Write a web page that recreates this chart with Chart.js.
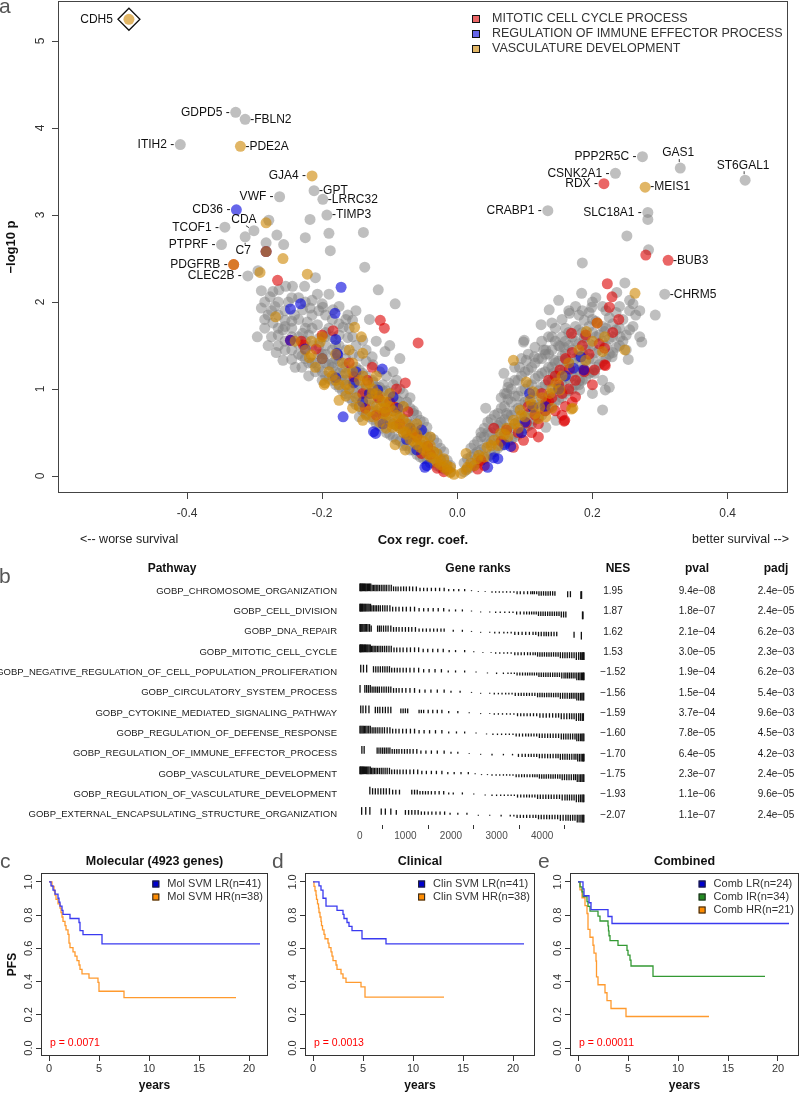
<!DOCTYPE html>
<html>
<head>
<meta charset="utf-8">
<script src="https://cdn.jsdelivr.net/npm/chart.js@4.4.1/dist/chart.umd.min.js"></script>
<style>
  body { margin: 0; background: #fff; width: 800px; height: 1093px; overflow: hidden; position: relative;
         font-family: "Liberation Sans", Arial, sans-serif; }
  canvas { position: absolute; }
  .tag { position: absolute; font-size: 21px; line-height: 21px; color: #555; }
</style>
</head>
<body>
<canvas id="volcano" width="800" height="580" style="left:0;top:-20px;width:800px;height:580px"></canvas>
<canvas id="gsea" width="800" height="292" style="left:0;top:555px;width:800px;height:292px"></canvas>
<canvas id="kmC" width="270" height="248" style="left:0;top:845px;width:270px;height:248px"></canvas>
<canvas id="kmD" width="268" height="248" style="left:270px;top:845px;width:268px;height:248px"></canvas>
<canvas id="kmE" width="262" height="248" style="left:538px;top:845px;width:262px;height:248px"></canvas>
<div class="tag" style="left:-1px;top:-5px">a</div>
<div class="tag" style="left:-1px;top:565px">b</div>
<div class="tag" style="left:0;top:850px">c</div>
<div class="tag" style="left:272px;top:850px">d</div>
<div class="tag" style="left:538px;top:850px">e</div>
<script>
// ---------- panel a : volcano ----------
const coefTicks = [-0.4, -0.2, 0, 0.2, 0.4];
const logpTicks = [0, 1, 2, 3, 4, 5];
const setNames = ['MITOTIC CELL CYCLE PROCESS', 'REGULATION OF IMMUNE EFFECTOR PROCESS', 'VASCULATURE DEVELOPMENT'];

// labelled genes
const geneNames = ['CDH5','GDPD5','FBLN2','ITIH2','PDE2A','GJA4','GPT','LRRC32','TIMP3','VWF','CD36','TCOF1','CDA','C7',
  'PTPRF','PDGFRB','CLEC2B','PPP2R5C','GAS1','ST6GAL1','CSNK2A1','RDX','MEIS1','CRABP1','SLC18A1','BUB3','CHRM5'];
const geneCoef = [-0.486,-0.328,-0.314,-0.410,-0.321,-0.215,-0.212,-0.199,-0.193,-0.263,-0.327,-0.344,-0.301,-0.314,
  -0.349,-0.331,-0.310,0.274,0.330,0.426,0.234,0.217,0.278,0.134,0.282,0.312,0.307];
const geneLogP = [5.25,4.18,4.10,3.81,3.79,3.45,3.28,3.18,3.00,3.21,3.06,2.86,2.82,2.75,
  2.66,2.43,2.30,3.67,3.54,3.40,3.48,3.36,3.32,3.05,3.03,2.48,2.09];
// m = mitotic, i = immune, v = vasculature, n = none
const geneSet = ['v','n','n','n','v','v','n','n','n','n','i','n','n','n','n','mv','n','n','n','n','n','m','v','n','n','m','n'];
const geneSide = ['l','l','r','l','r','l','r','r','r','l','l','l','tl','b','l','l','l','l','t','t','l','l','r','l','l','r','r'];
const highlightGene = 'CDH5';

const grayPoints = [
  [-0.279,2.94],[-0.267,2.77],[-0.283,2.68],[-0.257,2.66],[-0.218,2.95],[-0.225,2.74],[-0.19,2.79],[-0.139,2.80],
  [-0.188,2.59],[-0.137,2.40],[-0.21,2.28],[-0.295,2.36],[-0.244,2.18],[-0.254,2.18],[-0.226,2.18],[-0.117,2.14],
  [-0.29,2.13],[-0.273,2.12],[-0.264,2.14],[-0.207,2.09],[-0.19,2.09],[-0.277,2.06],[-0.092,1.98],[-0.29,1.93],
  [-0.229,1.91],[-0.241,1.85],[-0.218,1.93],[-0.199,1.94],[-0.184,1.91],[-0.162,1.85],[-0.155,1.79],[-0.169,1.71],
  [-0.207,1.74],[-0.222,1.77],[-0.255,1.79],[-0.273,1.76],[-0.285,1.70],[-0.296,1.60],[-0.258,1.68],[-0.229,1.64],
  [-0.196,1.60],[-0.162,1.59],[-0.140,1.56],[-0.258,1.33],[-0.245,1.34],[-0.107,1.43],[-0.126,1.37],
  [-0.27,1.95],[-0.25,2.0],[-0.235,2.05],[-0.215,2.02],[-0.2,1.98],[-0.175,1.95],[-0.15,1.9],[-0.13,1.8],
  [-0.28,1.85],[-0.265,1.62],[-0.245,1.7],[-0.235,1.52],[-0.22,1.62],[-0.205,1.5],[-0.19,1.7],[-0.175,1.62],
  [-0.16,1.7],[-0.15,1.5],[-0.135,1.45],[-0.28,1.5],[-0.268,1.42],[-0.255,1.45],[-0.24,1.25],[-0.23,1.38],
  [-0.21,1.3],[-0.195,1.4],[-0.18,1.5],[-0.165,1.35],[-0.15,1.25],[-0.12,1.55],[-0.1,1.5],[-0.085,1.35],
  [-0.095,1.2],[-0.22,1.15],[-0.2,1.2],[-0.185,1.25],[-0.17,1.15],[-0.155,1.08],[-0.14,1.18],[-0.125,1.1],
  [-0.11,1.05],[-0.09,1.1],[-0.08,0.95],[-0.07,0.9],[-0.065,0.75],[-0.145,0.68],
  [-0.01,0.05],[-0.01,0.12],[-0.02,0.08],[-0.02,0.18],[-0.02,0.28],[-0.03,0.12],[-0.03,0.25],[-0.03,0.38],
  [-0.04,0.15],[-0.04,0.3],[-0.04,0.45],[-0.05,0.2],[-0.05,0.35],[-0.05,0.5],[-0.05,0.62],[-0.06,0.25],
  [-0.06,0.4],[-0.06,0.55],[-0.06,0.7],[-0.07,0.3],[-0.07,0.45],[-0.07,0.6],[-0.07,0.78],[-0.08,0.35],
  [-0.08,0.5],[-0.08,0.65],[-0.08,0.8],[-0.09,0.42],[-0.09,0.58],[-0.09,0.72],[-0.09,0.88],[-0.1,0.48],
  [-0.1,0.62],[-0.1,0.78],[-0.1,0.95],[-0.11,0.55],[-0.11,0.7],[-0.11,0.85],[-0.11,0.98],[-0.12,0.6],
  [-0.12,0.75],[-0.12,0.9],[-0.12,1.02],[-0.13,0.68],[-0.13,0.82],[-0.13,0.95],[-0.14,0.75],[-0.14,0.88],
  [-0.14,1.0],[-0.15,0.82],[-0.15,0.95],[-0.15,1.1],[-0.16,0.9],[-0.16,1.05],[-0.16,1.2],[-0.17,0.98],
  [-0.17,1.1],[-0.17,1.25],[-0.18,1.05],[-0.18,1.2],[-0.18,1.35],[-0.19,1.12],[-0.19,1.28],[-0.2,1.1],
  [-0.2,1.4],[-0.21,1.2],[-0.22,1.3],[-0.23,1.25],
  [-0.015,0.08],[-0.015,0.18],[-0.025,0.1],[-0.025,0.2],[-0.025,0.32],[-0.035,0.15],[-0.035,0.28],[-0.035,0.42],
  [-0.045,0.2],[-0.045,0.32],[-0.045,0.45],[-0.045,0.56],[-0.055,0.22],[-0.055,0.36],[-0.055,0.5],[-0.055,0.64],
  [-0.065,0.3],[-0.065,0.45],[-0.065,0.6],[-0.065,0.72],[-0.075,0.35],[-0.075,0.5],[-0.075,0.65],[-0.075,0.85],
  [-0.085,0.4],[-0.085,0.55],[-0.085,0.7],[-0.085,0.85],[-0.085,1.0],[-0.095,0.45],[-0.095,0.6],[-0.095,0.75],
  [-0.095,0.9],[-0.095,1.05],[-0.105,0.5],[-0.105,0.66],[-0.105,0.82],[-0.105,0.98],[-0.105,1.15],[-0.115,0.58],
  [-0.115,0.72],[-0.115,0.88],[-0.115,1.02],[-0.115,1.2],[-0.125,0.65],[-0.125,0.8],[-0.125,0.95],[-0.125,1.08],
  [-0.125,1.28],[-0.135,0.72],[-0.135,0.86],[-0.135,1.0],[-0.135,1.15],[-0.135,1.32],[-0.145,0.8],[-0.145,0.92],
  [-0.145,1.06],[-0.145,1.22],[-0.145,1.38],[-0.155,0.86],[-0.155,1.0],[-0.155,1.15],[-0.155,1.4],[-0.155,1.6],
  [-0.165,0.95],[-0.165,1.1],[-0.165,1.25],[-0.165,1.45],[-0.165,1.8],[-0.175,1.02],[-0.175,1.18],[-0.175,1.32],
  [-0.175,1.5],[-0.175,1.75],[-0.185,1.1],[-0.185,1.3],[-0.185,1.45],[-0.185,1.6],[-0.185,1.8],[-0.195,1.15],
  [-0.195,1.3],[-0.195,1.5],[-0.195,1.65],[-0.195,1.85],[-0.205,1.25],[-0.205,1.4],[-0.205,1.58],[-0.205,1.9],
  [-0.215,1.3],[-0.215,1.5],[-0.215,1.7],[-0.215,1.85],[-0.225,1.35],[-0.225,1.55],[-0.225,1.7],[-0.225,2.0],
  [-0.235,1.4],[-0.235,1.6],[-0.235,1.8],[-0.245,1.45],[-0.245,1.6],[-0.245,1.78],[-0.245,2.05],[-0.255,1.55],
  [-0.255,1.72],[-0.255,1.9],[-0.265,1.5],[-0.265,1.7],[-0.265,1.85],[-0.265,2.0],[-0.275,1.6],[-0.275,1.9],
  [-0.285,1.8],[-0.285,2.0],
  [0.01,0.05],[0.01,0.15],[0.02,0.1],[0.02,0.22],[0.02,0.32],[0.03,0.15],[0.03,0.28],[0.03,0.4],
  [0.04,0.2],[0.04,0.32],[0.04,0.45],[0.04,0.55],[0.05,0.25],[0.05,0.38],[0.05,0.5],[0.05,0.65],
  [0.06,0.32],[0.06,0.45],[0.06,0.58],[0.06,0.72],[0.07,0.38],[0.07,0.5],[0.07,0.65],[0.07,0.8],
  [0.07,0.95],[0.08,0.42],[0.08,0.55],[0.08,0.7],[0.08,0.85],[0.08,1.0],[0.09,0.48],[0.09,0.62],
  [0.09,0.78],[0.09,0.92],[0.09,1.1],[0.1,0.55],[0.1,0.7],[0.1,0.85],[0.1,1.0],[0.1,1.2],
  [0.11,0.6],[0.11,0.75],[0.11,0.9],[0.11,1.05],[0.11,1.25],[0.12,0.68],[0.12,0.82],[0.12,0.98],
  [0.12,1.15],[0.12,1.35],[0.13,0.75],[0.13,0.9],[0.13,1.05],[0.13,1.2],[0.13,1.4],[0.14,0.8],
  [0.14,0.95],[0.14,1.1],[0.14,1.25],[0.14,1.45],[0.14,1.6],[0.15,0.88],[0.15,1.02],[0.15,1.18],
  [0.15,1.32],[0.15,1.5],[0.16,0.95],[0.16,1.1],[0.16,1.25],[0.16,1.4],[0.16,1.55],[0.16,1.7],
  [0.17,1.0],[0.17,1.15],[0.17,1.3],[0.17,1.45],[0.17,1.6],[0.18,1.05],[0.18,1.22],[0.18,1.38],
  [0.18,1.52],[0.18,1.68],[0.18,1.85],[0.19,1.12],[0.19,1.3],[0.19,1.45],[0.19,1.6],[0.2,1.2],
  [0.2,1.35],[0.2,1.5],[0.2,1.65],[0.2,1.8],[0.2,2.0],[0.21,1.28],[0.21,1.45],[0.21,1.62],
  [0.22,1.35],[0.22,1.5],[0.22,1.7],[0.22,1.9],[0.23,1.42],[0.23,1.6],[0.23,1.75],[0.24,1.5],
  [0.24,1.7],[0.24,1.95],[0.25,1.62],[0.26,1.72],[0.26,1.98],[0.27,1.6],[0.27,1.9],
  [0.015,0.08],[0.015,0.2],[0.025,0.12],[0.025,0.25],[0.025,0.36],[0.035,0.18],[0.035,0.3],[0.035,0.5],
  [0.045,0.22],[0.045,0.38],[0.045,0.5],[0.045,0.62],[0.055,0.28],[0.055,0.42],[0.055,0.55],[0.055,0.7],
  [0.065,0.35],[0.065,0.48],[0.065,0.62],[0.065,0.78],[0.065,0.9],[0.075,0.4],[0.075,0.55],[0.075,0.7],
  [0.075,0.88],[0.075,1.02],[0.085,0.45],[0.085,0.6],[0.085,0.75],[0.085,0.92],[0.085,1.1],[0.085,1.25],
  [0.095,0.5],[0.095,0.66],[0.095,0.82],[0.095,0.98],[0.095,1.15],[0.095,1.35],[0.105,0.58],[0.105,0.72],
  [0.105,0.88],[0.105,1.05],[0.105,1.22],[0.105,1.4],[0.115,0.65],[0.115,0.8],[0.115,0.95],[0.115,1.12],
  [0.115,1.3],[0.115,1.48],[0.125,0.7],[0.125,0.86],[0.125,1.02],[0.125,1.18],[0.125,1.35],[0.125,1.55],
  [0.135,0.78],[0.135,0.92],[0.135,1.08],[0.135,1.25],[0.135,1.4],[0.135,1.6],[0.145,0.85],[0.145,1.0],
  [0.145,1.15],[0.145,1.3],[0.145,1.55],[0.145,1.7],[0.155,0.9],[0.155,1.05],[0.155,1.22],[0.155,1.38],
  [0.155,1.6],[0.155,1.8],[0.165,0.98],[0.165,1.12],[0.165,1.3],[0.165,1.5],[0.165,1.65],[0.165,1.9],
  [0.175,1.05],[0.175,1.2],[0.175,1.35],[0.175,1.55],[0.175,1.72],[0.175,1.95],[0.185,1.1],[0.185,1.28],
  [0.185,1.42],[0.185,1.65],[0.185,1.9],[0.195,1.18],[0.195,1.35],[0.195,1.52],[0.195,1.72],[0.195,1.88],
  [0.205,1.25],[0.205,1.42],[0.205,1.6],[0.205,1.78],[0.205,2.05],[0.215,1.32],[0.215,1.55],[0.215,1.72],
  [0.215,1.95],[0.225,1.4],[0.225,1.58],[0.225,1.82],[0.235,1.48],[0.235,1.68],[0.235,1.88],[0.245,1.55],
  [0.245,1.8],[0.255,1.68],[0.255,1.9],
  [0.042,0.78],[0.073,0.72],[0.064,0.61],[0.035,0.45],[0.073,0.95],[0.076,1.07],[0.102,1.33],[0.098,1.54],
  [0.131,1.45],[0.152,1.49],[0.142,1.18],[0.161,1.33],[0.181,1.10],[0.2,0.95],[0.215,0.76],[0.219,0.99],
  [0.229,1.37],[0.146,0.64],[0.131,0.56],[0.248,2.22],[0.236,2.11],[0.255,2.02],[0.264,1.85],[0.293,1.85],
  [0.273,1.54],[0.25,1.45],[0.253,1.34],[0.184,2.10],[0.199,1.94],[0.150,2.02],[0.136,1.91],[0.14,1.76],
  [0.124,1.74],[0.166,1.87],[0.188,1.79],[0.218,1.66],[0.241,1.60],[0.188,1.59],[0.099,1.56],[0.069,1.18],
  [0.092,1.25],[0.114,1.37],[0.128,1.45],[0.158,1.48],[0.143,1.33],[0.181,1.37],[0.203,1.18],[0.225,1.02],
  [0.181,0.99],[0.215,1.10],[0.282,2.95],[0.251,2.76],[0.283,2.60],[0.185,2.45]
];
const mitoticPoints = [
  [-0.266,2.25],[-0.114,1.79],[-0.108,1.70],[-0.058,1.53],[-0.184,1.67],[-0.231,1.55],[-0.209,1.46],[-0.126,1.25],
  [-0.077,1.07],[-0.133,1.10],[-0.153,1.14],[-0.117,0.90],[-0.073,0.74],[-0.092,0.79],[-0.067,0.49],[-0.044,0.34],
  [-0.053,0.26],[-0.136,0.78],[-0.107,0.74],[-0.228,1.51],[-0.03,0.09],[-0.02,0.05],[-0.085,0.6],[-0.247,1.56],
  [-0.283,2.58],[-0.1,0.85],[-0.12,0.7],[-0.14,0.95],[-0.06,0.45],[-0.04,0.25],[-0.16,1.3],[-0.2,1.62],[-0.09,1.0],
  [0.222,2.21],[0.229,2.06],[0.225,1.94],[0.239,1.80],[0.169,1.64],[0.21,1.52],[0.218,1.47],[0.218,1.28],
  [0.158,0.63],[0.13,0.75],[0.14,0.9],[0.15,1.05],[0.16,0.8],[0.165,1.0],[0.145,1.15],[0.155,0.7],
  [0.17,0.85],[0.12,0.6],[0.11,0.5],[0.054,0.55],[0.073,0.53],[0.102,0.61],[0.131,0.84],[0.135,0.86],
  [0.152,1.22],[0.166,1.23],[0.175,0.91],[0.159,0.64],[0.188,1.20],[0.203,1.22],[0.219,1.27],[0.12,0.45],
  [0.098,0.41],[0.083,0.33],[0.035,0.18],[0.04,0.12],[0.03,0.08],[0.207,1.76],[0.188,1.22],[0.279,2.54],
  [0.125,0.95],[0.135,1.1],[0.145,0.75],[0.16,1.35],[0.175,1.1],[0.185,1.5],[0.195,1.4],[0.2,1.05],
  [0.115,0.7],[0.105,0.8],[0.09,0.5],[0.065,0.4],[0.155,0.95],[0.17,1.42],[0.19,1.62],[0.23,1.65]
];
const immunePoints = [
  [-0.172,2.17],[-0.232,1.98],[-0.247,1.92],[-0.181,1.87],[-0.225,1.46],[-0.18,1.57],[-0.178,1.41],[-0.111,1.23],
  [-0.169,0.68],[-0.121,0.49],[-0.177,1.39],[-0.18,1.13],[-0.153,1.07],[-0.124,0.51],[-0.095,0.91],[-0.088,0.78],
  [-0.053,0.53],[-0.048,0.10],[-0.118,0.99],[-0.045,0.12],[-0.247,1.56],[-0.283,2.58],[-0.14,0.85],[-0.07,0.55],
  [-0.13,0.95],[-0.11,0.6],[-0.075,0.42],[-0.06,0.3],[-0.2,1.35],[-0.15,1.2],
  [0.172,1.24],[0.187,1.22],[0.107,0.95],[0.054,0.21],[0.079,0.34],[0.112,0.79],[0.183,1.37],[0.045,0.1],
  [0.06,0.2],[0.095,0.5],[0.1,0.62],[0.13,0.8],[0.15,1.0],[0.07,0.36],[0.16,1.15]
];
const vascPoints = [
  [-0.283,2.91],[-0.258,2.50],[-0.292,2.34],[-0.222,2.32],[-0.269,1.83],[-0.152,1.71],[-0.142,1.60],[-0.216,1.55],
  [-0.203,1.54],[-0.216,1.39],[-0.196,1.07],[-0.283,2.58],[-0.155,1.30],[-0.165,1.18],[-0.175,0.87],[-0.14,0.64],
  [-0.096,0.56],[-0.077,0.30],[-0.092,0.36],[-0.131,1.07],[-0.126,0.95],[-0.197,1.05],[-0.219,1.36],[-0.18,1.1],
  [-0.14,1.41],[-0.107,0.78],[-0.077,0.51],
  [-0.005,0.02],[-0.01,0.04],[-0.015,0.07],[-0.02,0.1],[-0.025,0.13],[-0.03,0.16],[-0.035,0.2],[-0.04,0.22],
  [-0.045,0.26],[-0.05,0.3],[-0.055,0.33],[-0.06,0.36],[-0.065,0.4],[-0.07,0.42],[-0.075,0.48],[-0.08,0.5],
  [-0.085,0.55],[-0.09,0.58],[-0.095,0.6],[-0.1,0.65],[-0.105,0.7],[-0.11,0.72],[-0.115,0.78],[-0.12,0.8],
  [-0.02,0.2],[-0.04,0.35],[-0.06,0.48],[-0.08,0.65],[-0.1,0.8],[-0.12,0.95],[-0.13,0.88],[-0.15,0.9],
  [-0.16,1.0],[-0.175,1.05],[-0.19,1.2],[-0.2,1.35],[-0.155,0.78],[-0.13,0.75],[-0.14,1.15],[-0.01,0.1],
  [-0.03,0.26],[-0.05,0.4],[-0.07,0.55],[-0.09,0.7],[-0.11,0.86],[-0.125,0.68],[-0.145,0.8],[-0.165,0.92],
  [-0.015,0.12],[-0.025,0.18],[-0.035,0.28],[-0.045,0.34],[-0.055,0.42],[-0.065,0.5],[-0.075,0.6],[-0.085,0.68],
  [-0.095,0.75],[-0.105,0.85],[-0.115,0.92],[-0.125,1.0],[-0.135,1.05],[-0.145,1.1],[-0.155,1.2],[-0.165,1.05],
  [-0.17,1.3],[-0.185,1.15],[-0.21,1.25],[-0.225,1.45],[-0.24,1.55],[-0.2,1.6],[-0.18,1.4],[-0.16,1.45],
  [-0.12,1.15],[-0.1,0.95],[-0.08,0.8],[-0.06,0.6],[-0.04,0.45],[-0.105,0.55],[-0.115,0.62],[-0.135,0.7],
  [0.263,2.10],[0.191,1.66],[0.218,1.60],[0.248,1.45],[0.083,1.33],[0.169,0.77],[0.013,0.26],[0.207,1.76],
  [0.102,1.08],[0.112,0.97],[0.108,0.87],[0.093,0.76],[0.083,0.64],[0.073,0.55],[0.064,0.49],[0.054,0.41],
  [0.044,0.33],[0.032,0.24],[0.02,0.15],[0.013,0.07],[0.006,0.03],[0.146,1.07],[0.152,0.99],[0.137,0.95],
  [0.122,0.79],[0.131,0.68],[0.171,0.78],[0.19,1.33],[0.215,1.43],[0.025,0.12],[0.04,0.22],[0.06,0.35],
  [0.075,0.45],[0.09,0.55],[0.1,0.68],[0.115,0.72],
  [0.015,0.1],[0.03,0.2],[0.05,0.35],[0.07,0.48],[0.085,0.6],[0.095,0.7],[0.11,0.82],[0.125,0.9],
  [0.14,1.0],[0.155,1.15],[0.165,1.3],[0.18,1.45],[0.2,1.55],[0.14,0.78],[0.12,0.66]
];

// ---------- panel b : pathway table ----------
const pathways = ['GOBP_CHROMOSOME_ORGANIZATION','GOBP_CELL_DIVISION','GOBP_DNA_REPAIR','GOBP_MITOTIC_CELL_CYCLE',
  'GOBP_NEGATIVE_REGULATION_OF_CELL_POPULATION_PROLIFERATION','GOBP_CIRCULATORY_SYSTEM_PROCESS',
  'GOBP_CYTOKINE_MEDIATED_SIGNALING_PATHWAY','GOBP_REGULATION_OF_DEFENSE_RESPONSE',
  'GOBP_REGULATION_OF_IMMUNE_EFFECTOR_PROCESS','GOBP_VASCULATURE_DEVELOPMENT',
  'GOBP_REGULATION_OF_VASCULATURE_DEVELOPMENT','GOBP_EXTERNAL_ENCAPSULATING_STRUCTURE_ORGANIZATION'];
const nes = [1.95, 1.87, 1.62, 1.53, -1.52, -1.56, -1.59, -1.60, -1.70, -1.75, -1.93, -2.07];
const pval = [9.4e-8, 1.8e-7, 2.1e-4, 3.0e-5, 1.9e-4, 1.5e-4, 3.7e-4, 7.8e-5, 6.4e-5, 2.3e-7, 1.1e-6, 1.1e-7];
const padj = [2.4e-5, 2.4e-5, 6.2e-3, 2.3e-3, 6.2e-3, 5.4e-3, 9.6e-3, 4.5e-3, 4.2e-3, 2.4e-5, 9.6e-5, 2.4e-5];
const rankTicks = [0, 1000, 2000, 3000, 4000];
// approximate |stat| profile along the ranked list (fraction of tallest tick), and where the stat turns negative
const rankBreaks = [0, 250, 700, 1300, 1900, 2400, 2900, 3400, 3900, 4400, 4750];
const rankHeight = [1.0, 0.82, 0.62, 0.44, 0.27, 0.12, 0.2, 0.4, 0.58, 0.78, 1.0];
const rankZero = 2600;
const geneRanks = [
  [2,15,30,45,60,80,100,120,140,165,190,215,240,270,300,330,360,395,430,470,510,550,590,640,690,740,790,840,900,960,
   1020,1090,1160,1240,1320,1400,1480,1570,1660,1750,1850,1950,2060,2170,2300,2450,2600,2750,2900,2980,3060,3140,
   3220,3300,3380,3450,3520,3600,3680,3750,3790,3830,3880,3930,3980,4030,4080,4130,4180,4230,4280,4560,4620,4850,4865],
  [2,12,25,40,55,70,90,110,130,155,180,205,235,265,300,335,370,410,450,500,550,600,660,720,790,860,940,1020,1110,
   1200,1300,1400,1500,1610,1720,1840,1960,2100,2250,2450,2650,2850,2980,3080,3180,3280,3360,3440,3520,3600,3660,
   3720,3770,3820,3870,3920,3970,4020,4070,4120,4170,4220,4270,4320,4370,4420,4470,4520,4885,4895],
  [3,15,30,50,70,95,120,150,180,215,250,390,430,470,520,570,620,680,740,800,860,930,1000,1070,1140,1220,1300,1380,
   1460,1540,1620,1700,1780,1850,2050,2250,2450,2650,2850,2960,3060,3160,3240,3320,3400,3480,3560,3640,3720,3800,
   3860,3920,3980,4040,4090,4140,4200,4260,4320,4700,4860],
  [1,10,20,32,45,58,72,88,105,122,140,160,180,205,230,255,285,315,350,385,420,460,500,545,590,640,690,750,810,880,
   950,1030,1110,1200,1290,1390,1490,1600,1710,1830,1960,2100,2300,2500,2700,2880,2980,3070,3160,3240,3320,3400,
   3470,3540,3610,3680,3740,3800,3850,3900,3950,4000,4050,4100,4150,4200,4250,4300,4350,4400,4450,4500,4550,4600,
   4650,4700,4750,4800,4840,4870,4890,4905,4918],
  [20,80,150,300,350,400,450,500,550,600,650,700,760,820,880,950,1020,1100,1190,1290,1400,1520,1650,1790,1940,2100,
   2300,2550,2800,3000,3150,3250,3320,3390,3450,3510,3570,3630,3680,3730,3780,3830,3880,3930,3980,4030,4080,4130,
   4180,4230,4280,4330,4380,4430,4480,4520,4560,4600,4640,4680,4720,4760,4800,4830,4860,4885,4905,4918],
  [5,110,150,190,230,270,310,350,390,430,480,530,580,630,680,740,800,860,930,1010,1100,1200,1310,1430,1560,1700,
   1850,2000,2200,2450,2650,2850,2950,3040,3120,3200,3270,3340,3410,3480,3540,3600,3660,3720,3780,3840,3900,3950,
   4000,4050,4100,4150,4200,4250,4300,4350,4400,4450,4500,4550,4600,4640,4680,4720,4760,4800,4840,4870,4895,4912],
  [20,70,130,200,340,390,440,500,560,620,680,900,950,1000,1050,1300,1350,1400,1500,1600,1700,1800,1950,2150,2400,
   2650,2850,2950,3040,3130,3220,3300,3380,3460,3530,3600,3670,3740,3810,3880,3950,4020,4090,4160,4230,4300,4360,
   4420,4480,4540,4600,4650,4700,4750,4800,4840,4880,4905],
  [3,25,50,75,100,130,160,195,230,270,310,350,395,440,490,540,600,660,720,790,860,940,1020,1110,1200,1300,1410,1530,
   1660,1800,1950,2120,2300,2550,2780,2920,3020,3110,3200,3280,3360,3430,3500,3570,3640,3700,3760,3820,3880,3940,
   4000,4060,4120,4180,4240,4300,4360,4420,4470,4520,4570,4620,4670,4720,4760,4800,4840,4870,4895,4915],
  [45,95,380,420,460,500,540,580,620,660,710,760,810,860,920,980,1040,1100,1170,1250,1340,1450,1570,1700,1850,2000,
   2150,2400,2650,2900,3150,3350,3480,3560,3630,3700,3760,3820,3880,3940,4000,4060,4120,4180,4240,4300,4350,4400,
   4450,4500,4550,4600,4650,4700,4740,4780,4820,4855,4885,4905,4918],
  [2,15,30,45,60,80,100,125,150,175,200,230,260,290,320,355,390,430,470,510,555,600,650,700,760,820,880,950,1020,
   1100,1180,1270,1360,1460,1570,1680,1800,1930,2070,2220,2380,2530,2670,2800,2900,2990,3070,3150,3220,3290,3360,
   3430,3490,3550,3610,3670,3730,3790,3840,3890,3940,3990,4040,4090,4140,4190,4240,4290,4340,4390,4440,4490,4540,
   4590,4640,4690,4730,4770,4810,4845,4875,4900,4915],
  [220,280,340,400,460,520,580,650,720,790,870,1140,1200,1260,1320,1380,1440,1500,1570,1650,1740,1840,1950,2050,
   2250,2500,2750,2900,3000,3090,3170,3250,3320,3390,3460,3530,3600,3660,3720,3780,3840,3900,3960,4020,4080,4140,
   4200,4260,4320,4380,4440,4500,4550,4600,4650,4700,4750,4800,4840,4875,4900,4915],
  [40,130,220,470,560,680,800,1000,1070,1140,1210,1280,1350,1420,1500,1580,1670,1760,1860,1980,2150,2350,2600,2850,
   3100,3300,3380,3450,3520,3590,3660,3730,3800,3860,3920,3980,4040,4100,4160,4220,4280,4340,4400,4460,4520,4570,
   4620,4670,4720,4770,4810,4850,4880,4900,4915]
];

// ---------- panels c-e : Kaplan-Meier ----------
const yearTicks = [0, 5, 10, 15, 20];
const pfsTicks = [0, 0.2, 0.4, 0.6, 0.8, 1];
const molLR = [[0,1],[0.2,0.976],[0.4,0.951],[0.6,0.927],[0.9,0.902],[1.0,0.878],[1.1,0.854],[1.3,0.829],[1.4,0.805],
  [2.1,0.780],[3.0,0.756],[3.1,0.707],[3.4,0.683],[5.3,0.627],[21.1,0.627]];
const molHR = [[0,1],[0.3,0.974],[0.5,0.947],[0.6,0.921],[0.7,0.895],[0.9,0.868],[1.1,0.842],[1.2,0.816],[1.3,0.789],
  [1.4,0.763],[1.6,0.737],[1.7,0.711],[1.9,0.684],[2.0,0.632],[2.1,0.605],[2.4,0.579],[2.6,0.553],[2.8,0.526],
  [3.0,0.500],[3.1,0.474],[3.3,0.447],[4.0,0.421],[4.9,0.395],[5.0,0.342],[7.5,0.304],[18.7,0.304]];
const clinLR = [[0,1],[0.6,0.976],[0.8,0.951],[1.0,0.902],[1.3,0.854],[2.4,0.829],[3.0,0.805],[3.1,0.780],[3.4,0.756],
  [3.6,0.732],[3.9,0.707],[4.9,0.658],[7.3,0.627],[21.1,0.627]];
const clinHR = [[0,1],[0.1,0.974],[0.2,0.947],[0.3,0.921],[0.35,0.895],[0.45,0.868],[0.55,0.842],[0.6,0.816],
  [0.7,0.789],[0.8,0.763],[0.85,0.737],[0.95,0.711],[1.1,0.684],[1.2,0.658],[1.5,0.632],[1.6,0.605],[1.8,0.579],
  [1.9,0.553],[2.0,0.526],[2.3,0.5],[2.4,0.474],[2.8,0.447],[3.0,0.421],[3.3,0.395],[4.8,0.368],[5.2,0.307],[13.1,0.307]];
const combLR = [[0,1],[0.5,0.958],[0.6,0.917],[1.1,0.875],[1.3,0.833],[3.0,0.792],[3.4,0.750],[21.1,0.750]];
const combIR = [[0,1],[0.2,0.971],[0.4,0.941],[0.5,0.912],[0.9,0.882],[1.0,0.853],[1.2,0.824],[2.0,0.794],[2.2,0.765],
  [3.0,0.735],[3.05,0.706],[3.1,0.676],[3.2,0.647],[4.0,0.618],[4.9,0.588],[5.0,0.559],[5.2,0.529],[5.3,0.494],
  [7.5,0.432],[18.7,0.432]];
const combHR = [[0,1],[0.2,0.952],[0.4,0.905],[0.7,0.857],[0.9,0.810],[1.0,0.714],[1.2,0.667],[1.5,0.619],[1.6,0.571],
  [1.8,0.524],[1.85,0.429],[2.0,0.381],[2.7,0.333],[2.9,0.286],[3.3,0.238],[4.8,0.190],[13.1,0.190]];

// ---------- setup ----------
const FONT = '"Liberation Sans", Arial, sans-serif';
Chart.defaults.font.family = FONT;
Chart.defaults.color = '#333';
Chart.defaults.animation = false;
Chart.defaults.events = [];
Chart.defaults.plugins.legend.display = false;
Chart.defaults.plugins.tooltip.enabled = false;

const RED = 'rgba(220,0,0,0.6)', BLUE = 'rgba(0,0,220,0.6)', ORANGE = 'rgba(205,133,0,0.6)', GRAY = 'rgba(128,128,128,0.5)';
const VOFF = 20;   // volcano canvas starts 20px above the page

function pts(list) { return list.map(p => ({ x: p[0], y: p[1] })); }
function genesIn(code) {
  return geneNames.map((g, i) => i).filter(i => geneSet[i].includes(code))
    .map(i => ({ x: geneCoef[i], y: geneLogP[i] }));
}
function fixedTicks(values) { return s => { s.ticks = values.map(v => ({ value: v })); }; }
function fixW(w) { return s => { s.width = w; s.paddingTop = 0; s.paddingBottom = 0; }; }
function fixH(h) { return s => { s.height = h; s.paddingLeft = 0; s.paddingRight = 0; }; }
function fmtE(v) {
  const [m, e] = v.toExponential(1).split('e');
  const n = Math.abs(parseInt(e, 10));
  return m + 'e' + (e[0] === '-' ? '\u2212' : '+') + (n < 10 ? '0' + n : n);
}
function fmtN(v) { return v.toFixed(2).replace('-', '\u2212'); }

// ---------- volcano ----------
const volcanoDecor = {
  id: 'volcanoDecor',
  afterDraw(chart) {
    const { ctx, chartArea: a, scales: { x, y } } = chart;
    ctx.save();
    ctx.strokeStyle = '#444';
    ctx.lineWidth = 1;
    ctx.strokeRect(Math.round(a.left) + 0.5, Math.round(a.top) + 0.5, Math.round(a.width) - 1, Math.round(a.height) - 1);

    ctx.font = '12px ' + FONT;
    ctx.fillStyle = '#111';
    ctx.textBaseline = 'middle';
    geneNames.forEach((g, i) => {
      const px = x.getPixelForValue(geneCoef[i]), py = y.getPixelForValue(geneLogP[i]);
      const s = geneSide[i];
      ctx.beginPath();
      if (g === highlightGene) {
        ctx.textAlign = 'right'; ctx.fillText(g, px - 16, py);
      } else if (s === 'l') {
        ctx.textAlign = 'right'; ctx.fillText(g + ' -', px - 6, py);
      } else if (s === 'r') {
        ctx.textAlign = 'left'; ctx.fillText('-' + g, px + 5, py);
      } else if (s === 't') {
        ctx.textAlign = 'center'; ctx.fillText(g, px - 2, py - 15);
        ctx.moveTo(px - 1, py - 9); ctx.lineTo(px - 1, py - 6); ctx.stroke();
      } else if (s === 'tl') {
        ctx.textAlign = 'center'; ctx.fillText(g, px - 10, py - 11);
        ctx.moveTo(px - 8, py - 5); ctx.lineTo(px - 5, py - 3); ctx.stroke();
      } else if (s === 'b') {
        ctx.textAlign = 'center'; ctx.fillText(g, px - 2, py + 14);
        ctx.moveTo(px, py + 6); ctx.lineTo(px, py + 8); ctx.stroke();
      }
    });

    // set legend
    const cols = [RED, BLUE, ORANGE];
    ctx.font = '12.5px ' + FONT;
    ctx.textAlign = 'left';
    setNames.forEach((n, k) => {
      const cy = VOFF + 19 + k * 15;
      ctx.fillStyle = '#fff'; ctx.fillRect(472, cy - 4, 8, 8);
      ctx.fillStyle = cols[k]; ctx.fillRect(472, cy - 4, 8, 8);
      ctx.strokeStyle = '#111'; ctx.strokeRect(472.5, cy - 3.5, 7, 7);
      ctx.fillStyle = '#333'; ctx.fillText(n, 492, cy);
    });

    ctx.font = '12.5px ' + FONT;
    ctx.fillStyle = '#222';
    ctx.textAlign = 'left'; ctx.fillText('<-- worse survival', 80, VOFF + 540);
    ctx.textAlign = 'right'; ctx.fillText('better survival -->', 789, VOFF + 540);
    ctx.restore();
  }
};

const dot = { pointRadius: 5.5, pointBorderWidth: 0 };
new Chart(document.getElementById('volcano'), {
  type: 'scatter',
  data: {
    datasets: [
      { data: [{ x: geneCoef[0], y: geneLogP[0] }], pointStyle: 'rectRot', pointRadius: 11, pointBorderWidth: 1.3,
        pointBackgroundColor: 'rgba(0,0,0,0)', pointBorderColor: '#111', order: 0 },
      { data: pts(vascPoints).concat(genesIn('v')), pointBackgroundColor: ORANGE, ...dot, order: 1 },
      { data: pts(immunePoints).concat(genesIn('i')), pointBackgroundColor: BLUE, ...dot, order: 2 },
      { data: pts(mitoticPoints).concat(genesIn('m')), pointBackgroundColor: RED, ...dot, order: 3 },
      { data: pts(grayPoints).concat(genesIn('n')), pointBackgroundColor: GRAY, ...dot, order: 4 }
    ]
  },
  options: {
    responsive: false, devicePixelRatio: 1,
    layout: { padding: { top: VOFF + 1, right: 2, left: 0, bottom: 0 } },
    scales: {
      x: {
        type: 'linear', min: -0.591, max: 0.489,
        afterBuildTicks: fixedTicks(coefTicks), afterFit: fixH(67),
        grid: { display: true, drawOnChartArea: false, drawTicks: true, tickLength: 6, color: '#444' },
        border: { display: false },
        ticks: { font: { size: 12 }, color: '#333', padding: 7, maxRotation: 0, autoSkip: false, callback: v => v.toFixed(1) },
        title: { display: true, text: 'Cox regr. coef.', font: { size: 13, weight: 'bold' }, color: '#111', padding: { top: 0, bottom: 12 } }
      },
      y: {
        type: 'linear', min: -0.195, max: 5.46,
        afterBuildTicks: fixedTicks(logpTicks), afterFit: fixW(58),
        grid: { display: true, drawOnChartArea: false, drawTicks: true, tickLength: 6, color: '#444' },
        border: { display: false },
        ticks: { font: { size: 12 }, color: '#333', minRotation: 90, maxRotation: 90, crossAlign: 'center', padding: 8, autoSkip: false,
                 callback: v => String(v) },
        title: { display: true, text: '\u2212log10 p', font: { size: 13, weight: 'bold' }, color: '#111', padding: { top: 4 } }
      }
    }
  },
  plugins: [volcanoDecor]
});

// ---------- gene rank table ----------
function tickHeight(r) {
  let k = 0;
  for (let j = 0; j < rankBreaks.length; j++) if (r >= rankBreaks[j]) k = j;
  return rankHeight[k] * 0.38;
}
const rankBars = [];
geneRanks.forEach((row, i) => row.forEach(r => {
  const h = tickHeight(r);
  rankBars.push({ x: r, y: r < rankZero ? [i, i - h] : [i, i + h] });
}));

const tableDecor = {
  id: 'tableDecor',
  afterDraw(chart) {
    const { ctx, scales: { y } } = chart;
    ctx.save();
    ctx.textAlign = 'center';
    ctx.textBaseline = 'middle';
    ctx.fillStyle = '#111';
    ctx.font = 'bold 12px ' + FONT;
    [['Pathway', 172], ['Gene ranks', 478], ['NES', 618], ['pval', 697], ['padj', 776]]
      .forEach(([t, cx]) => ctx.fillText(t, cx, 14));
    ctx.font = '10px ' + FONT;
    ctx.fillStyle = '#1a1a1a';
    pathways.forEach((p, i) => {
      const cy = y.getPixelForValue(i);
      ctx.fillText(fmtN(nes[i]), 613, cy);
      ctx.fillText(fmtE(pval[i]), 697, cy);
      ctx.fillText(fmtE(padj[i]), 776, cy);
    });
    ctx.restore();
  }
};

new Chart(document.getElementById('gsea'), {
  type: 'bar',
  data: { datasets: [{ data: rankBars, backgroundColor: '#111', borderWidth: 0, barThickness: 1.3, inflateAmount: 0 }] },
  options: {
    responsive: false, devicePixelRatio: 1,
    layout: { padding: { top: 26, right: 215, left: 0, bottom: 0 } },
    scales: {
      x: {
        type: 'linear', min: -40, max: 4940, offset: false,
        afterBuildTicks: fixedTicks(rankTicks), afterFit: fixH(22),
        grid: { display: true, drawOnChartArea: false, drawTicks: true, tickLength: 4, color: '#333' },
        border: { display: false },
        ticks: { font: { size: 10 }, color: '#4d4d4d', padding: 1, maxRotation: 0, autoSkip: false, callback: v => String(v) }
      },
      y: {
        type: 'linear', min: -0.5, max: 11.5, reverse: true,
        afterBuildTicks: fixedTicks(pathways.map((p, i) => i)), afterFit: fixW(358),
        grid: { display: false, drawTicks: false }, border: { display: false },
        ticks: { font: { size: 9.5 }, color: '#1a1a1a', padding: 21, autoSkip: false, callback: (v, i) => pathways[i] }
      }
    }
  },
  plugins: [tableDecor]
});

// ---------- KM panels ----------
const kmDecor = {
  id: 'kmDecor',
  afterDraw(chart, args, o) {
    const { ctx, chartArea: a } = chart;
    ctx.save();
    ctx.strokeStyle = '#333';
    ctx.lineWidth = 1;
    ctx.strokeRect(Math.round(a.left) + 0.5, Math.round(a.top) + 0.5, Math.round(a.width) - 1, Math.round(a.height) - 1);
    ctx.textBaseline = 'middle';
    ctx.textAlign = 'center';
    ctx.fillStyle = '#111';
    ctx.font = 'bold 12.5px ' + FONT;
    ctx.fillText(o.title, (a.left + a.right) / 2, a.top - 11);

    ctx.font = '11px ' + FONT;
    const w = Math.max(...o.labels.map(t => ctx.measureText(t).width));
    const tx = a.right - 5 - w;
    ctx.textAlign = 'left';
    o.labels.forEach((t, k) => {
      const cy = a.top + 11 + k * 13;
      ctx.fillStyle = o.boxes[k]; ctx.fillRect(tx - 15, cy - 3.5, 7, 7);
      ctx.strokeStyle = '#222'; ctx.strokeRect(tx - 14.5, cy - 3, 6, 6);
      ctx.fillStyle = '#333'; ctx.fillText(t, tx, cy);
    });

    ctx.font = '10.5px ' + FONT;
    ctx.fillStyle = '#ff0000';
    ctx.fillText(o.p, a.left + 9, a.bottom - 13);
    ctx.restore();
  }
};

function kmChart(id, cfg) {
  new Chart(document.getElementById(id), {
    type: 'scatter',
    data: {
      datasets: cfg.curves.map((c, k) => ({
        data: pts(c), showLine: true, stepped: 'before', borderColor: cfg.lines[k], borderWidth: 1.3,
        pointRadius: 0, fill: false
      }))
    },
    options: {
      responsive: false, devicePixelRatio: 1,
      layout: { padding: { top: 28, right: cfg.padRight, left: 0, bottom: 0 } },
      scales: {
        x: {
          type: 'linear', min: -0.8, max: cfg.xMax,
          afterBuildTicks: fixedTicks(yearTicks), afterFit: fixH(37),
          grid: { display: true, drawOnChartArea: false, drawTicks: true, tickLength: 5, color: '#333' },
          border: { display: false },
          ticks: { font: { size: 11 }, color: '#333', padding: 1, maxRotation: 0, autoSkip: false },
          title: { display: true, text: 'years', font: { size: 12, weight: 'bold' }, color: '#111', padding: { top: 0, bottom: 0 } }
        },
        y: {
          type: 'linear', min: -0.048, max: 1.054,
          afterBuildTicks: fixedTicks(pfsTicks), afterFit: fixW(cfg.yWidth),
          grid: { display: true, drawOnChartArea: false, drawTicks: true, tickLength: 5, color: '#333' },
          border: { display: false },
          ticks: { font: { size: 11 }, color: '#333', minRotation: 90, maxRotation: 90, crossAlign: 'center', padding: -1,
                   autoSkip: false, callback: v => v.toFixed(1) },
          title: { display: cfg.yTitle, text: 'PFS', font: { size: 12, weight: 'bold' }, color: '#111', padding: { top: 5 } }
        }
      },
      plugins: { kmDecor: { title: cfg.title, labels: cfg.labels, boxes: cfg.boxes, p: cfg.p } }
    },
    plugins: [kmDecor]
  });
}

const LBLUE = '#3a3af0', LORANGE = '#ff9a2e', LGREEN = '#339933';
const BBLUE = '#0000cd', BORANGE = '#ff8c00', BGREEN = '#228b22';
kmChart('kmC', { title: 'Molecular (4923 genes)', curves: [molLR, molHR], lines: [LBLUE, LORANGE], boxes: [BBLUE, BORANGE],
  labels: ['Mol SVM LR(n=41)', 'Mol SVM HR(n=38)'], p: 'p = 0.0071', xMax: 21.9, yWidth: 41, padRight: 2, yTitle: true });
kmChart('kmD', { title: 'Clinical', curves: [clinLR, clinHR], lines: [LBLUE, LORANGE], boxes: [BBLUE, BORANGE],
  labels: ['Clin SVM LR(n=41)', 'Clin SVM HR(n=38)'], p: 'p = 0.0013', xMax: 22.2, yWidth: 35, padRight: 3, yTitle: false });
kmChart('kmE', { title: 'Combined', curves: [combLR, combIR, combHR], lines: [LBLUE, LGREEN, LORANGE], boxes: [BBLUE, BGREEN, BORANGE],
  labels: ['Comb LR(n=24)', 'Comb IR(n=34)', 'Comb HR(n=21)'], p: 'p = 0.00011', xMax: 22.1, yWidth: 32, padRight: 1, yTitle: false });
</script>
</body>
</html>
